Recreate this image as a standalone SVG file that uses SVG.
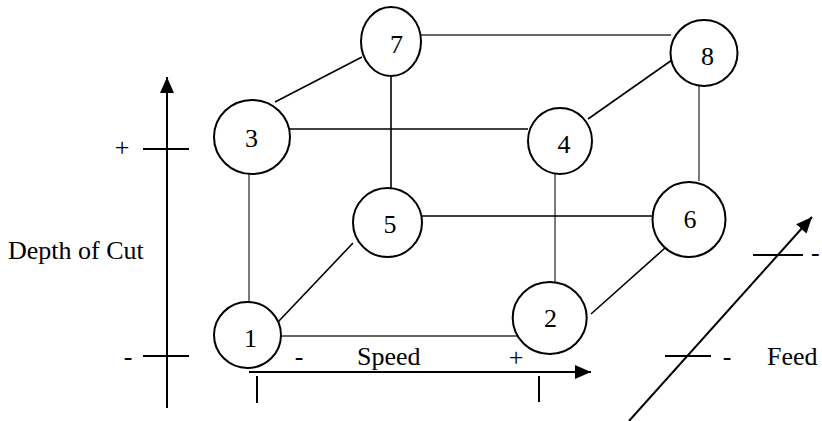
<svg xmlns="http://www.w3.org/2000/svg" width="822" height="421" viewBox="0 0 822 421">
<style>
.node ellipse{fill:#fff;stroke:#000;stroke-width:2}
.node text,.lbl{font-family:"Liberation Serif","Times New Roman",serif;font-size:26px;fill:#000}
.node text{text-anchor:middle}
.c{stroke:#000;stroke-width:1.6;fill:none}
.t{stroke:#333;stroke-width:1.3;fill:none}
.ax{stroke:#000;stroke-width:2;fill:none}
</style>
<defs>
<marker id="ah" viewBox="0 0 16 14" refX="16" refY="7" markerWidth="16" markerHeight="14" markerUnits="userSpaceOnUse" orient="auto">
<path d="M0,0 L16,7 L0,14 z" fill="#000"/>
</marker>
</defs>
<g id="axes">
<line class="ax" x1="167" y1="408" x2="167" y2="77" marker-end="url(#ah)"/>
<line class="ax" x1="143" y1="149" x2="189" y2="149"/>
<line class="ax" x1="143" y1="356" x2="189" y2="356"/>
<line class="ax" stroke-width="2.5" x1="249" y1="372" x2="591" y2="372" marker-end="url(#ah)"/>
<line class="ax" x1="257" y1="376" x2="257" y2="403"/>
<line class="ax" x1="539" y1="376" x2="539" y2="402"/>
<line class="ax" x1="629" y1="421" x2="812" y2="217" marker-end="url(#ah)"/>
<line class="ax" x1="753" y1="255" x2="803" y2="255"/>
<line class="ax" x1="665" y1="356" x2="711" y2="356"/>
<text class="lbl" x="122" y="156" text-anchor="middle">+</text>
<text class="lbl" x="128" y="365" text-anchor="middle">-</text>
<text class="lbl" x="8" y="259">Depth of Cut</text>
<text class="lbl" x="299" y="365" text-anchor="middle">-</text>
<text class="lbl" x="357" y="365">Speed</text>
<text class="lbl" x="516" y="366" text-anchor="middle">+</text>
<text class="lbl" x="727" y="365" text-anchor="middle">-</text>
<text class="lbl" x="767" y="365">Feed</text>
<text class="lbl" x="811" y="261">-</text>
</g>
<g id="connectors">
<line class="t" x1="421" y1="35" x2="671" y2="35"/>
<line class="c" x1="275" y1="102" x2="362" y2="57"/>
<line class="c" x1="588" y1="119" x2="672" y2="60"/>
<line class="c" x1="391" y1="76" x2="391" y2="188"/>
<line class="c" x1="290" y1="129" x2="528" y2="129"/>
<line class="t" x1="699" y1="86" x2="699" y2="181"/>
<line class="t" x1="249" y1="174" x2="249" y2="302"/>
<line class="t" x1="555" y1="174" x2="555" y2="282"/>
<line class="c" x1="422" y1="216" x2="653" y2="216"/>
<line class="c" x1="278" y1="322" x2="353" y2="243"/>
<line class="c" x1="591" y1="314" x2="665" y2="248"/>
<line class="t" x1="281" y1="336" x2="517" y2="336"/>
</g>
<g id="n1" class="node"><ellipse cx="247.5" cy="335" rx="33.5" ry="33"/><text x="250.5" y="347">1</text></g>
<g id="n2" class="node"><ellipse cx="549.7" cy="318" rx="37" ry="36"/><text x="550.5" y="327">2</text></g>
<g id="n3" class="node"><ellipse cx="252" cy="137" rx="38" ry="37"/><text x="251.5" y="147">3</text></g>
<g id="n4" class="node"><ellipse cx="560" cy="141" rx="32" ry="33"/><text x="564" y="153">4</text></g>
<g id="n5" class="node"><ellipse cx="387.5" cy="222.5" rx="34.5" ry="34.5"/><text x="390" y="233">5</text></g>
<g id="n6" class="node"><ellipse cx="689" cy="219.5" rx="36.5" ry="37.5"/><text x="690" y="228">6</text></g>
<g id="n7" class="node"><ellipse cx="391" cy="41.5" rx="30" ry="34.5"/><text x="396.5" y="53">7</text></g>
<g id="n8" class="node"><ellipse cx="704" cy="53" rx="33.5" ry="33"/><text x="707.5" y="65">8</text></g>
</svg>
